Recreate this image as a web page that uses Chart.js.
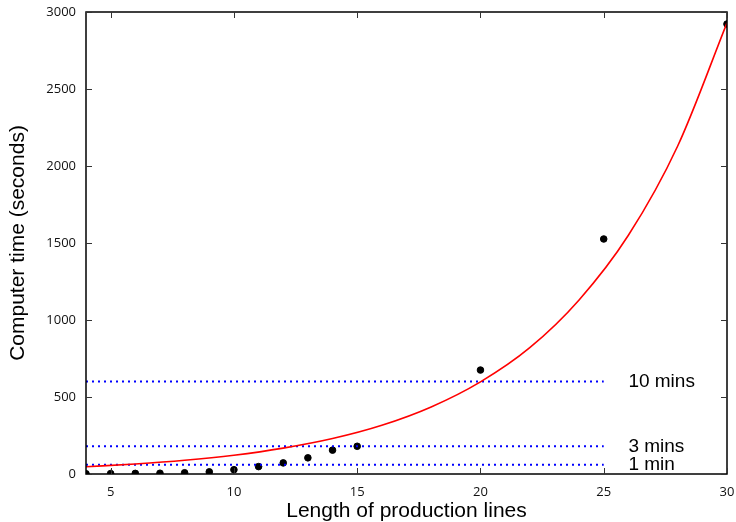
<!DOCTYPE html>
<html>
<head>
<style>
  html, body { margin: 0; padding: 0; background: #fff; }
  #wrap { width: 736px; height: 522px; }
</style>
</head>
<body>
<script src="https://cdn.jsdelivr.net/npm/chart.js@4/dist/chart.umd.min.js"></script>
<div id="wrap"><canvas id="myChart" width="736" height="522"></canvas></div>
<script>
// measured run times
const lineLengths = [4, 5, 6, 7, 8, 9, 10, 11, 12, 13, 14, 15, 20, 25, 30];
const runTimes = [2, 3, 4, 5, 8, 14, 28, 48, 72, 105, 155, 180, 675, 1526, 2922];

// fitted curve
const fitX = [4, 6, 8, 10, 12, 14, 16, 18, 20, 22, 24, 26, 28, 30];
const fitY = [47, 65, 89, 122, 168, 230, 316, 435, 598, 820, 1130, 1550, 2130, 2930];

// reference levels
const refLabels = ['10 mins', '3 mins', '1 min'];
const refValues = [600, 180, 60];
const refStart = 4;
const refEnd = 25;
const refLabelX = 26;

const xTicks = [5, 10, 15, 20, 25, 30];
const yTicks = [0, 500, 1000, 1500, 2000, 2500, 3000];

const refSets = refValues.map(v => ({
    type: 'line',
    data: [{x: refStart, y: v}, {x: refEnd, y: v}],
    borderColor: '#0000ff',
    borderWidth: 2,
    borderDash: [2, 4],
    pointRadius: 0,
    fill: false
}));

const boxTicks = {
    id: 'boxTicks',
    afterDraw(chart) {
        const c = chart.ctx, a = chart.chartArea;
        const xs = chart.scales.x, ys = chart.scales.y;
        c.save();
        c.strokeStyle = '#000';
        c.lineWidth = 1.5;
        c.strokeRect(a.left, a.top, a.right - a.left, a.bottom - a.top);
        c.lineWidth = 1;
        c.strokeStyle = '#333';
        c.beginPath();
        xTicks.forEach(t => {
            const px = Math.round(xs.getPixelForValue(t)) + 0.5;
            c.moveTo(px, a.bottom); c.lineTo(px, a.bottom - 6);
            c.moveTo(px, a.top); c.lineTo(px, a.top + 6);
        });
        yTicks.forEach(t => {
            const py = Math.round(ys.getPixelForValue(t)) + 0.5;
            c.moveTo(a.left, py); c.lineTo(a.left + 6, py);
            c.moveTo(a.right, py); c.lineTo(a.right - 6, py);
        });
        c.stroke();
        c.fillStyle = '#000';
        c.font = '19px "Liberation Sans", Arial, sans-serif';
        c.textBaseline = 'middle';
        c.textAlign = 'left';
        refLabels.forEach((txt, i) => {
            const py = ys.getPixelForValue(refValues[i]);
            c.fillText(txt, xs.getPixelForValue(refLabelX), py);
        });
        c.restore();
    }
};

const ctx = document.getElementById('myChart').getContext('2d');
const myChart = new Chart(ctx, {
    type: 'scatter',
    data: {
        datasets: [
            {
                type: 'line',
                data: fitX.map((x, i) => ({x: x, y: fitY[i]})),
                borderColor: '#ff0000',
                borderWidth: 1.6,
                pointRadius: 0,
                cubicInterpolationMode: 'monotone',
                fill: false
            },
            ...refSets,
            {
                data: lineLengths.map((x, i) => ({x: x, y: runTimes[i]})),
                backgroundColor: '#000',
                borderColor: '#000',
                pointRadius: 3.3
            }
        ]
    },
    options: {
        responsive: false,
        animation: false,
        layout: { padding: { top: 12, right: 9, left: 0, bottom: 0 } },
        plugins: { legend: { display: false }, tooltip: { enabled: false } },
        scales: {
            x: {
                type: 'linear',
                min: 4, max: 30,
                afterBuildTicks: s => { s.ticks = xTicks.map(v => ({value: v})); },
                afterFit: s => { s.height = 48; s.paddingLeft = 0; s.paddingRight = 0; },
                grid: { display: false, drawTicks: false },
                border: { display: false },
                ticks: { padding: 10, color: '#111', callback: v => String(v),
                         font: { family: '"Open Sans", sans-serif', size: 13 } },
                title: { display: true, text: 'Length of production lines', color: '#000',
                         padding: { top: 0, bottom: -2 },
                         font: { family: '"Liberation Sans", Arial, sans-serif', size: 21 } }
            },
            y: {
                min: 0, max: 3000,
                afterBuildTicks: s => { s.ticks = yTicks.map(v => ({value: v})); },
                afterFit: s => { s.width = 86; s.paddingTop = 0; s.paddingBottom = 0; },
                grid: { display: false, drawTicks: false },
                border: { display: false },
                ticks: { padding: 10, color: '#111', callback: v => String(v),
                         font: { family: '"Open Sans", sans-serif', size: 13 } },
                title: { display: true, text: 'Computer time (seconds)', color: '#000',
                         padding: { top: 6, bottom: 0 },
                         font: { family: '"Liberation Sans", Arial, sans-serif', size: 21 } }
            }
        }
    },
    plugins: [boxTicks]
});
</script>
</body>
</html>
